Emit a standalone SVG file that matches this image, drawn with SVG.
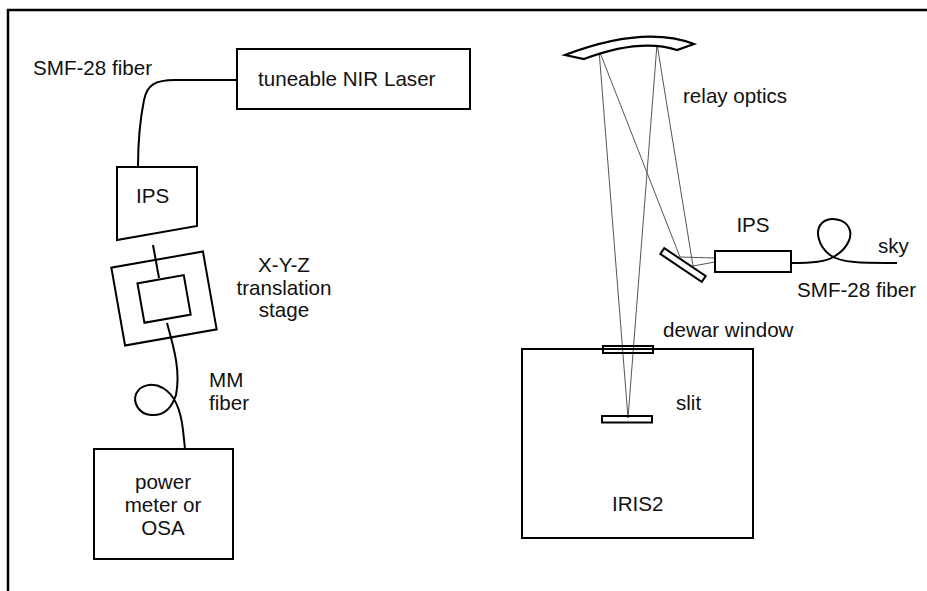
<svg xmlns="http://www.w3.org/2000/svg" width="927" height="591" viewBox="0 0 927 591">
<style>
.t{font-family:"Liberation Sans",Arial,sans-serif;font-size:20.6px;fill:#111}
.m{text-anchor:middle}
.box{fill:#fff;stroke:#000;stroke-width:2}
.fib{fill:none;stroke:#000;stroke-width:2}
.ray{fill:none;stroke:#555;stroke-width:1}
</style>
<rect x="0" y="0" width="927" height="591" fill="#fff"/>
<path d="M8,600 V10 H940" fill="none" stroke="#000" stroke-width="2.5"/>

<g id="connectors">
<path class="fib" d="M237,80 L175,80 C155,80 147,85 144,100 C141,115 138,140 138,167"/>
<path class="fib" d="M153,245 L159,278"/>
<path class="fib" d="M167,323 C173,345 181,370 176,395 C171,410 162,416 151,415 C138,414 133,402 136,394 C140,385 152,382 163,388 C175,395 181,412 183,430 L185,449"/>
<path class="fib" d="M791,263 C812,263 826,262 835,256 C848,248 853,236 849,228 C845,219 830,216 822,223 C814,231 819,247 830,255 C842,264 870,263 897,263"/>
<path class="ray" d="M599,50 L628,418 M657,44 L628,418 M599,50 L680,257 M657,44 L693,266 M680,257 L715,258 M693,266 L715,262"/>
</g>

<g id="laser"><rect class="box" x="237" y="49" width="233" height="60"/><text class="t" x="258" y="86">tuneable NIR Laser</text></g>
<text class="t" x="33" y="75">SMF-28 fiber</text>

<g id="ips-left"><path class="box" d="M117,167 H197 V226 L117,240 Z"/><text class="t" x="136" y="203">IPS</text></g>

<g id="stage" transform="rotate(-10 164 298.5)">
<rect class="box" x="117.5" y="259" width="93" height="79" style="fill:none"/>
<rect class="box" x="140.5" y="279" width="47" height="40" style="fill:none"/>
</g>
<text class="t m" x="284" y="272">X-Y-Z</text>
<text class="t m" x="284" y="295">translation</text>
<text class="t m" x="284" y="317">stage</text>
<text class="t" x="209" y="387">MM</text>
<text class="t" x="209" y="410">fiber</text>

<g id="power-meter"><rect class="box" x="94" y="449" width="139" height="110"/>
<text class="t m" x="163" y="489">power</text><text class="t m" x="163" y="512">meter or</text><text class="t m" x="163" y="535">OSA</text></g>

<g id="relay-mirror"><path d="M565,55 Q644,25 694,44 L677,50 Q640,38 584,59 Z" fill="#fff" stroke="#000" stroke-width="2.2" stroke-linejoin="miter"/></g>
<text class="t" x="683" y="103">relay optics</text>

<g id="fold-mirror"><rect class="box" x="658" y="261.5" width="50" height="7" transform="rotate(34 683 265)"/></g>

<g id="ips-right"><rect class="box" x="715" y="251" width="76" height="21"/><text class="t m" x="753" y="232">IPS</text></g>
<text class="t" x="878" y="253">sky</text>
<text class="t" x="797" y="297">SMF-28 fiber</text>

<g id="iris2"><rect class="box" x="522" y="349" width="231" height="189" style="fill:none"/><text class="t" x="612" y="511">IRIS2</text></g>
<g id="dewar-window"><rect class="box" x="603" y="346" width="50" height="7" style="fill:none"/><text class="t" x="663" y="337">dewar window</text></g>
<g id="slit"><rect class="box" x="602" y="416" width="50" height="6.5" style="fill:none"/><text class="t" x="676" y="410">slit</text></g>
</svg>
